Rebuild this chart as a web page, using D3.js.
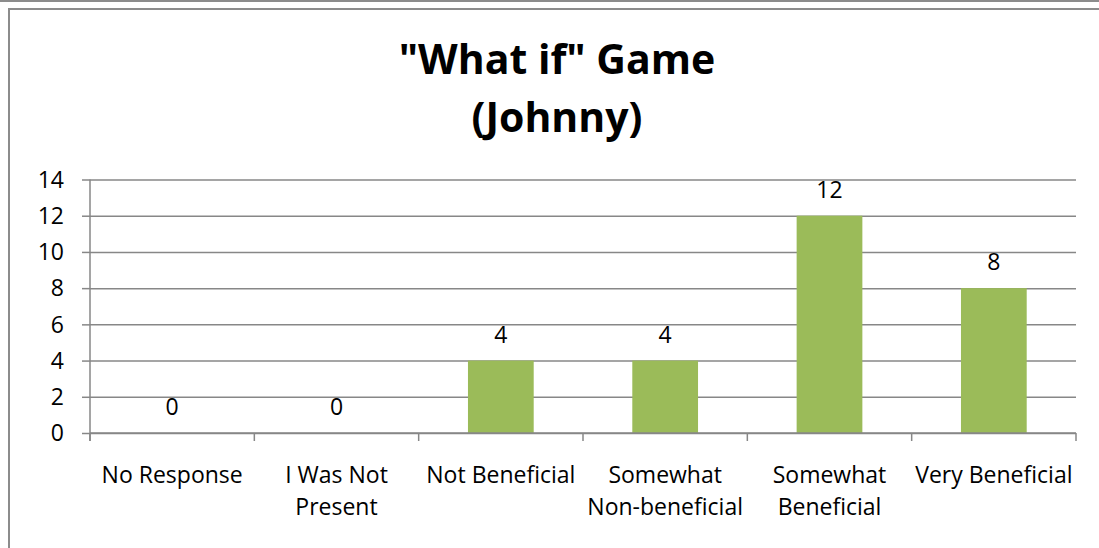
<!DOCTYPE html>
<html>
<head>
<meta charset="utf-8">
<script src="https://cdn.jsdelivr.net/npm/d3@7"></script>
<style>
  body { margin: 0; background: #fff; }
  svg { display: block; font-family: "Open Sans", sans-serif; }
  .grid line { stroke: #878787; stroke-width: 1.5; }
  .grid path { stroke: none; }
</style>
</head>
<body>
<div id="chart"></div>
<script>
var categories = ["No Response", "I Was Not Present", "Not Beneficial",
                  "Somewhat Non-beneficial", "Somewhat Beneficial", "Very Beneficial"];
var categoryLines = [["No Response"], ["I Was Not", "Present"], ["Not Beneficial"],
                     ["Somewhat", "Non-beneficial"], ["Somewhat", "Beneficial"], ["Very Beneficial"]];
var values = [0, 0, 4, 4, 12, 8];
var yTicks = [0, 2, 4, 6, 8, 10, 12, 14];
var titleLines = ["\"What if\" Game", "(Johnny)"];

var W = 1099, H = 548;
var margin = {top: 179.5, left: 90, right: 23, bottom: 115};
var width = W - margin.left - margin.right,
    height = H - margin.top - margin.bottom;

var svg = d3.select("#chart").append("svg")
    .attr("width", W)
    .attr("height", H);

// frame
svg.append("rect")
    .attr("x", 0).attr("y", 0).attr("width", W).attr("height", 2)
    .attr("fill", "#8c8c8c");
svg.append("rect")
    .attr("x", 9).attr("y", 9).attr("width", W + 50).attr("height", H + 50)
    .attr("fill", "none").attr("stroke", "#8c8c8c").attr("stroke-width", 2);

// title
svg.append("g").selectAll("text")
    .data(titleLines)
    .enter().append("text")
    .attr("x", 557)
    .attr("y", function(d, i) { return 74 + i * 58; })
    .attr("text-anchor", "middle")
    .attr("font-weight", "bold")
    .attr("font-size", "41px")
    .attr("fill", "#000")
    .text(function(d) { return d; });

var g = svg.append("g")
    .attr("transform", "translate(" + margin.left + "," + margin.top + ")");

var x = d3.scaleBand().domain(categories).range([0, width]).padding(0);
var y = d3.scaleLinear().domain([0, 14]).range([height, 0]);

// horizontal gridlines + y ticks
g.append("g")
    .attr("class", "grid")
    .call(d3.axisLeft(y).tickValues(yTicks).tickSize(-width).tickFormat(""));

g.append("g")
    .attr("class", "grid")
    .call(d3.axisLeft(y).tickValues(yTicks).tickSize(8).tickFormat(""));

g.append("line")
    .attr("x1", 0).attr("x2", 0).attr("y1", 0).attr("y2", height + 8)
    .attr("stroke", "#878787").attr("stroke-width", 1.5);

g.append("g").selectAll("text")
    .data(yTicks)
    .enter().append("text")
    .attr("x", -26)
    .attr("y", function(d) { return y(d); })
    .attr("dy", "0.36em")
    .attr("text-anchor", "end")
    .attr("font-size", "23px")
    .attr("fill", "#000")
    .text(function(d) { return d; });

// bars
var barW = x.bandwidth() * 0.4;
g.append("g").selectAll("rect")
    .data(values)
    .enter().append("rect")
    .attr("x", function(d, i) { return x(categories[i]) + (x.bandwidth() - barW) / 2; })
    .attr("y", function(d) { return y(d); })
    .attr("width", barW)
    .attr("height", function(d) { return height - y(d); })
    .attr("fill", "#9bbb59");

// x axis line and ticks at category boundaries
g.append("line")
    .attr("x1", 0).attr("x2", width).attr("y1", height).attr("y2", height)
    .attr("stroke", "#878787").attr("stroke-width", 1.5);

var bounds = categories.map(function(c) { return x(c); }).concat([width]);
g.append("g").selectAll("line")
    .data(bounds)
    .enter().append("line")
    .attr("x1", function(d) { return d; }).attr("x2", function(d) { return d; })
    .attr("y1", height).attr("y2", height + 8)
    .attr("stroke", "#878787").attr("stroke-width", 1.5);

// data labels
g.append("g").selectAll("text")
    .data(values)
    .enter().append("text")
    .attr("x", function(d, i) { return x(categories[i]) + x.bandwidth() / 2; })
    .attr("y", function(d) { return y(d) - 18; })
    .attr("text-anchor", "middle")
    .attr("font-size", "23px")
    .attr("fill", "#000")
    .text(function(d) { return d; });

// category labels
var cat = g.append("g").selectAll("text")
    .data(categoryLines)
    .enter().append("text")
    .attr("text-anchor", "middle")
    .attr("font-size", "23px")
    .attr("fill", "#000")
    .attr("transform", function(d, i) {
        return "translate(" + (x(categories[i]) + x.bandwidth() / 2) + "," + (height + 50) + ")";
    });

cat.selectAll("tspan")
    .data(function(d) { return d; })
    .enter().append("tspan")
    .attr("x", 0)
    .attr("y", function(d, i) { return i * 32; })
    .text(function(d) { return d; });
</script>
</body>
</html>
